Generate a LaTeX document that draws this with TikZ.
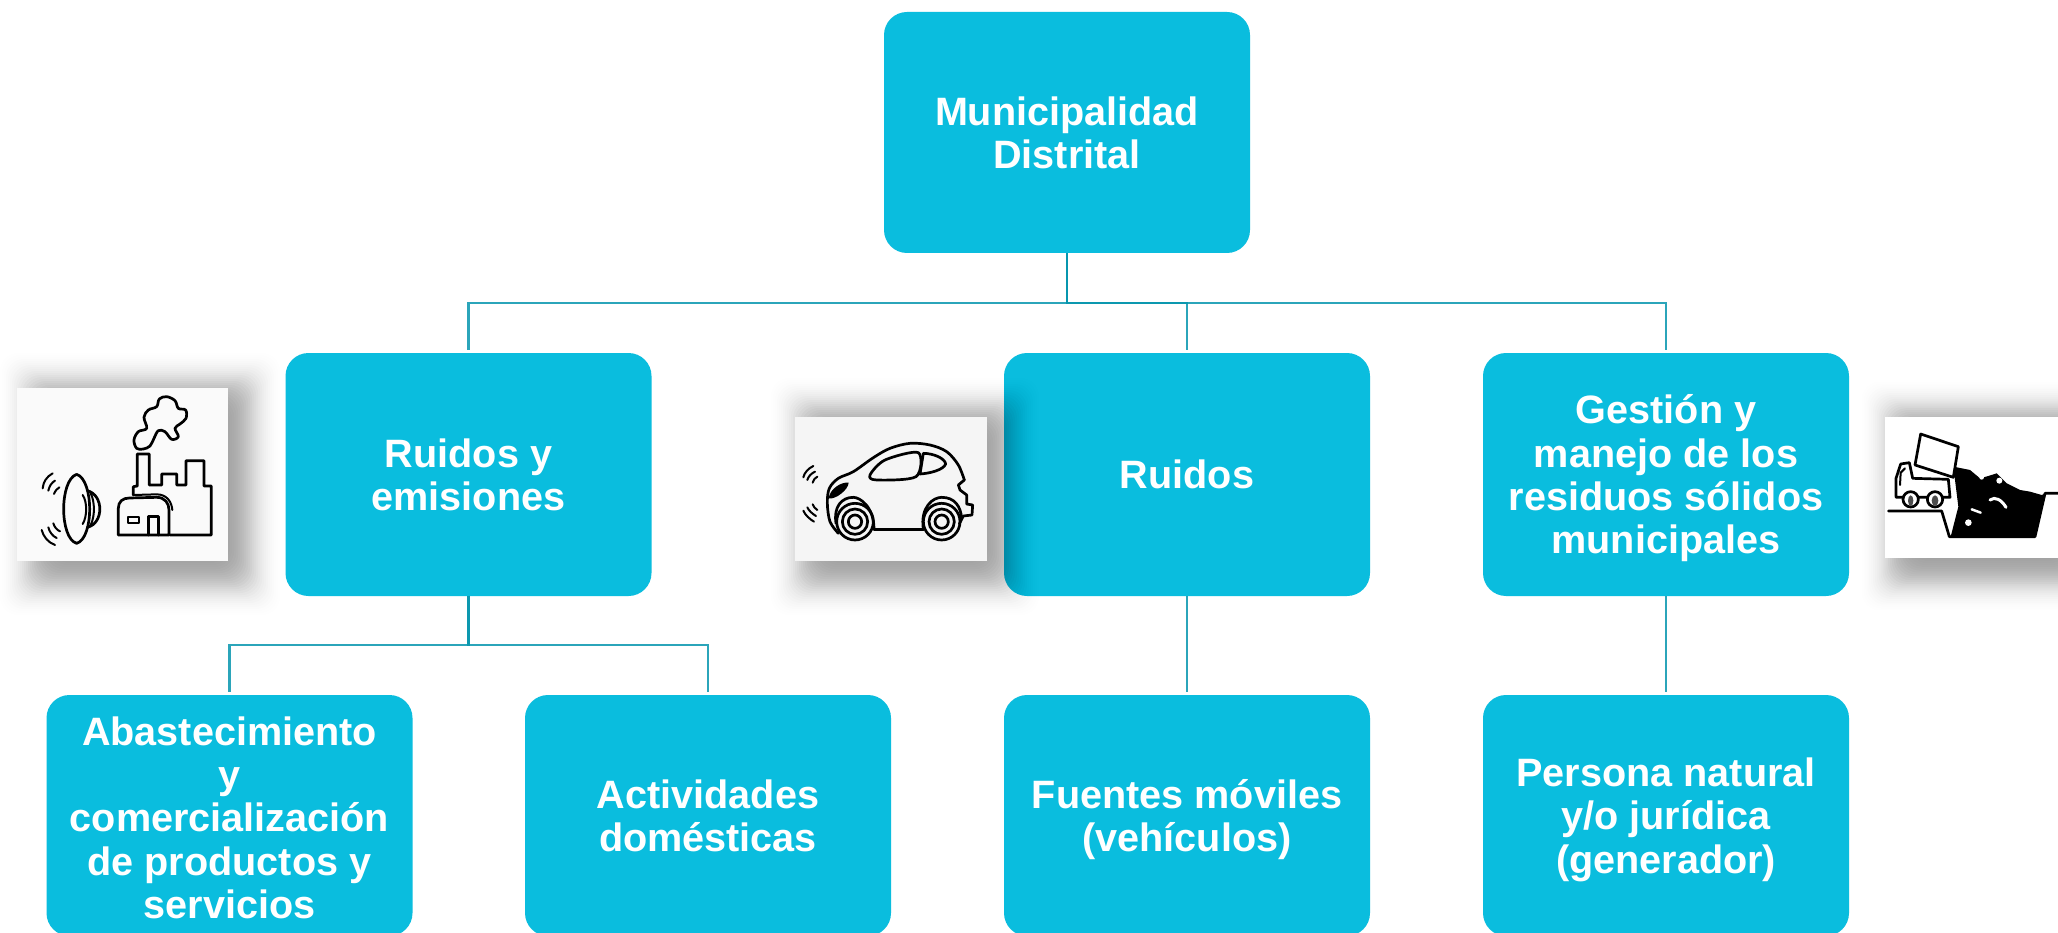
\documentclass[tikz,border=0pt]{standalone}
\usepackage{fontspec}
\setmainfont{Liberation Sans}
\definecolor{boxteal}{HTML}{0ABDDE}
\definecolor{lineteal}{HTML}{0796AE}
\tikzset{
  x=1pt,y=-1pt,
  box/.style={draw=none,fill=boxteal,rounded corners=23pt,minimum width=366pt,minimum height=241pt,inner sep=0pt,
    text=white,align=center,font=\fontsize{39.6}{43.3}\selectfont\bfseries},
  conn/.style={draw=lineteal,draw opacity=0.85,line width=2.7pt},
  connend/.style={conn,shorten >=2.5pt},
  icon/.style={draw=black,line width=2.7pt,line join=round,line cap=round},
  iconthin/.style={draw=black,line width=2pt,line join=round,line cap=round},
  zoomone/.style={x=0.33333pt,y=-0.33333pt,shift={(0pt,-360pt)}},
  zoomtwo/.style={x=0.33333pt,y=-0.33333pt,shift={(770pt,-390pt)}},
  zoomthree/.style={x=0.33333pt,y=-0.33333pt,shift={(1860pt,-390pt)}},
}
\newcommand{\softshadow}[5]{%
  \foreach \r in {34,32,...,-34}{%
    \pgfmathsetmacro{\shop}{0.001+0.024*(1-abs(\r)/34)}%
    \fill[black,fill opacity=\shop,rounded corners=18pt]
      ({#1-\r*#5},{#2-\r*#5}) rectangle ({#3+\r*#5},{#4+\r*#5});
  }%
}
\newcommand{\dropline}[1]{\rule{0pt}{#1pt}}
\begin{document}
\begin{tikzpicture}
\useasboundingbox (0,0) rectangle (2058,933);
\clip (0,0) rectangle (2058,933);
\fill[white] (0,0) rectangle (2058,933);

% boxes
\node[box] (root) at (1067,132.5) {Municipalidad\\Distrital};
\node[box,minimum height=243pt] (b1) at (468.5,474.5) {Ruidos y\\emisiones};
\node[box,minimum height=243pt] (b2) at (1187,474.5) {Ruidos};
\node[box,minimum height=243pt] (b3) at (1666,474.5) {\dropline{37}Gestión y\\manejo de los\\residuos sólidos\\municipales};
\node[box] (c1) at (229.5,815.5) {\dropline{33}Abastecimiento\\y\\comercialización\\de productos y\\servicios};
\node[box] (c2) at (708,815.5) {Actividades\\domésticas};
\node[box] (c3) at (1187,815.5) {\dropline{37}Fuentes móviles\\(vehículos)};
\node[box] (c4) at (1666,815.5) {\dropline{37}Persona natural\\y/o jurídica\\(generador)};

% connectors
\coordinate (busA) at (1067,303);
\coordinate (busB) at (468.5,645);
\draw[connend] (root.south) -- (busA) -| (b1.north);
\draw[connend] (root.south) -- (busA) -| (b2.north);
\draw[connend] (root.south) -- (busA) -| (b3.north);
\draw[connend] (b1.south) -- (busB) -| (c1.north);
\draw[connend] (b1.south) -- (busB) -| (c2.north);
\draw[connend] (b2.south) -- (c3.north);
\draw[connend] (b3.south) -- (c4.north);

% picture 1: speaker and factory
\softshadow{32}{385}{248}{583}{1}
\fill[white!98!black] (17,388) rectangle (228,561);
\begin{scope}[zoomone]
  \draw[icon] (230,343) .. controls (178,360) and (178,535) .. (230,550) .. controls (282,535) and (282,360) .. (230,343);
  \draw[iconthin] (248,405) .. controls (262,425) and (262,470) .. (248,492);
  \draw[icon] (262,392) .. controls (312,405) and (312,490) .. (262,502);
  \draw[iconthin] (272,400) .. controls (285,425) and (285,470) .. (272,495);
  \draw[iconthin] (158,340) .. controls (140,350) and (130,365) .. (128,385);
  \draw[iconthin] (165,362) .. controls (155,368) and (148,378) .. (145,392);
  \draw[iconthin] (178,382) .. controls (172,385) and (166,392) .. (162,402);
  \draw[iconthin] (125,510) .. controls (130,530) and (145,548) .. (165,555);
  \draw[iconthin] (145,502) .. controls (148,515) and (157,528) .. (170,534);
  \draw[iconthin] (160,490) .. controls (163,500) and (170,510) .. (180,514);
  \draw[icon] plot[smooth cycle,tension=0.6] coordinates {(410,265) (402,240) (415,215) (440,205) (432,172) (445,150) (470,140) (478,117) (500,110) (525,122) (535,145) (557,150) (558,175) (540,192) (525,205) (535,230) (515,238) (495,215) (475,212) (462,235) (450,258) (430,267)};
  \draw[icon] (400,405) -- (400,380) -- (412,378) -- (412,282) -- (448,282) -- (448,375) -- (485,375) -- (485,342) -- (530,342) -- (530,375) -- (558,375) -- (558,302) -- (612,302) -- (612,378) -- (634,378) -- (634,525) -- (510,525);
  \draw[icon] (355,525) -- (355,445) .. controls (355,425) and (368,414) .. (388,414) -- (470,412) .. controls (495,412) and (507,430) .. (507,450) -- (507,525) -- (355,525);
  \draw[iconthin] (400,405) -- (470,403) .. controls (500,403) and (515,425) .. (517,450);
  \draw[icon] (445,525) -- (445,470) -- (475,470) -- (475,525);
  \draw[iconthin] (385,472) rectangle (418,490);
\end{scope}

% picture 2: car
\softshadow{803}{410}{1007}{583}{1}
\fill[white!96!black] (795,417) rectangle (987,561);
\begin{scope}[zoomtwo]
  \draw[icon] plot[smooth,tension=0.55] coordinates {(205,430) (180,395) (172,340) (178,295) (205,265) (250,245) (310,203) (360,175) (420,160) (480,165) (530,185) (565,225) (583,270)};
  \draw[icon] (583,270) -- (565,285) -- (570,300) -- (590,315) -- (590,342) -- (608,345) -- (606,375) -- (580,378) -- (568,402);
  \draw[icon] (312,418) -- (460,418);
  \draw[icon] (312,418) .. controls (312,350) and (270,322) .. (250,322) .. controls (215,322) and (190,350) .. (198,400);
  \draw[icon] (460,418) .. controls (450,350) and (490,322) .. (515,322) .. controls (555,322) and (572,350) .. (575,385);
  \foreach \cx in {255,515}{
    \draw[icon] (\cx,395) circle[radius=55];
    \draw[icon] (\cx,395) circle[radius=38];
    \draw[icon] (\cx,395) circle[radius=20];
  }
  \draw[icon] plot[smooth cycle,tension=0.5] coordinates {(300,255) (345,210) (445,188) (438,260) (320,270)};
  \draw[icon] (460,190) .. controls (490,190) and (525,205) .. (527,222) .. controls (520,240) and (480,250) .. (450,252) -- cycle;
  \fill[black] (176,325) .. controls (180,295) and (215,275) .. (236,278) .. controls (235,300) and (195,330) .. (176,325);
  \draw[iconthin] (130,228) .. controls (115,235) and (103,248) .. (100,262);
  \draw[iconthin] (135,245) .. controls (125,250) and (115,258) .. (112,270);
  \draw[iconthin] (142,260) .. controls (135,263) and (130,270) .. (128,278);
  \draw[iconthin] (100,362) .. controls (105,375) and (120,388) .. (132,395);
  \draw[iconthin] (112,352) .. controls (116,362) and (128,372) .. (138,378);
  \draw[iconthin] (128,343) .. controls (130,350) and (136,356) .. (142,360);
\end{scope}

% picture 3: truck and waste
\softshadow{1892}{412}{2085}{580}{0.95}
\fill[white] (1885,417) rectangle (2058,558);
\begin{scope}[zoomthree]
  \fill[black] (280,230) -- (330,240) -- (360,265) -- (385,258) -- (410,250) -- (440,280) -- (480,300) -- (510,305) -- (545,315) -- (558,310) -- (525,440) -- (272,440) -- (295,350) -- cycle;
  \draw[icon] (85,363) -- (245,363) -- (268,440) -- (525,440) -- (555,310) -- (594,310);
  \fill[white] (325,398) circle[radius=10];
  \draw[line width=3pt,white,line cap=round] (390,330) .. controls (405,318) and (425,330) .. (438,352);
  \draw[line width=2.5pt,white,line cap=round] (335,358) -- (362,368);
  \fill[white] (365,262) circle[radius=7];
  \fill[white] (418,272) circle[radius=9];
  \draw[icon,fill=white] (182,132) -- (295,170) -- (280,262) -- (165,225) -- cycle;
  \draw[icon] (108,320) -- (108,265) -- (122,222) -- (148,218) -- (158,265) -- (265,268) -- (270,322) -- (108,322);
  \draw[iconthin] (120,285) -- (122,248) -- (135,235);
  \draw[icon,fill=white] (152,328) circle[radius=23];
  \draw[icon,fill=white] (225,328) circle[radius=23];
  \fill[black!70] (152,332) ellipse[x radius=8,y radius=16];
  \fill[black!70] (225,332) ellipse[x radius=10,y radius=16];
\end{scope}
\end{tikzpicture}
\end{document}
